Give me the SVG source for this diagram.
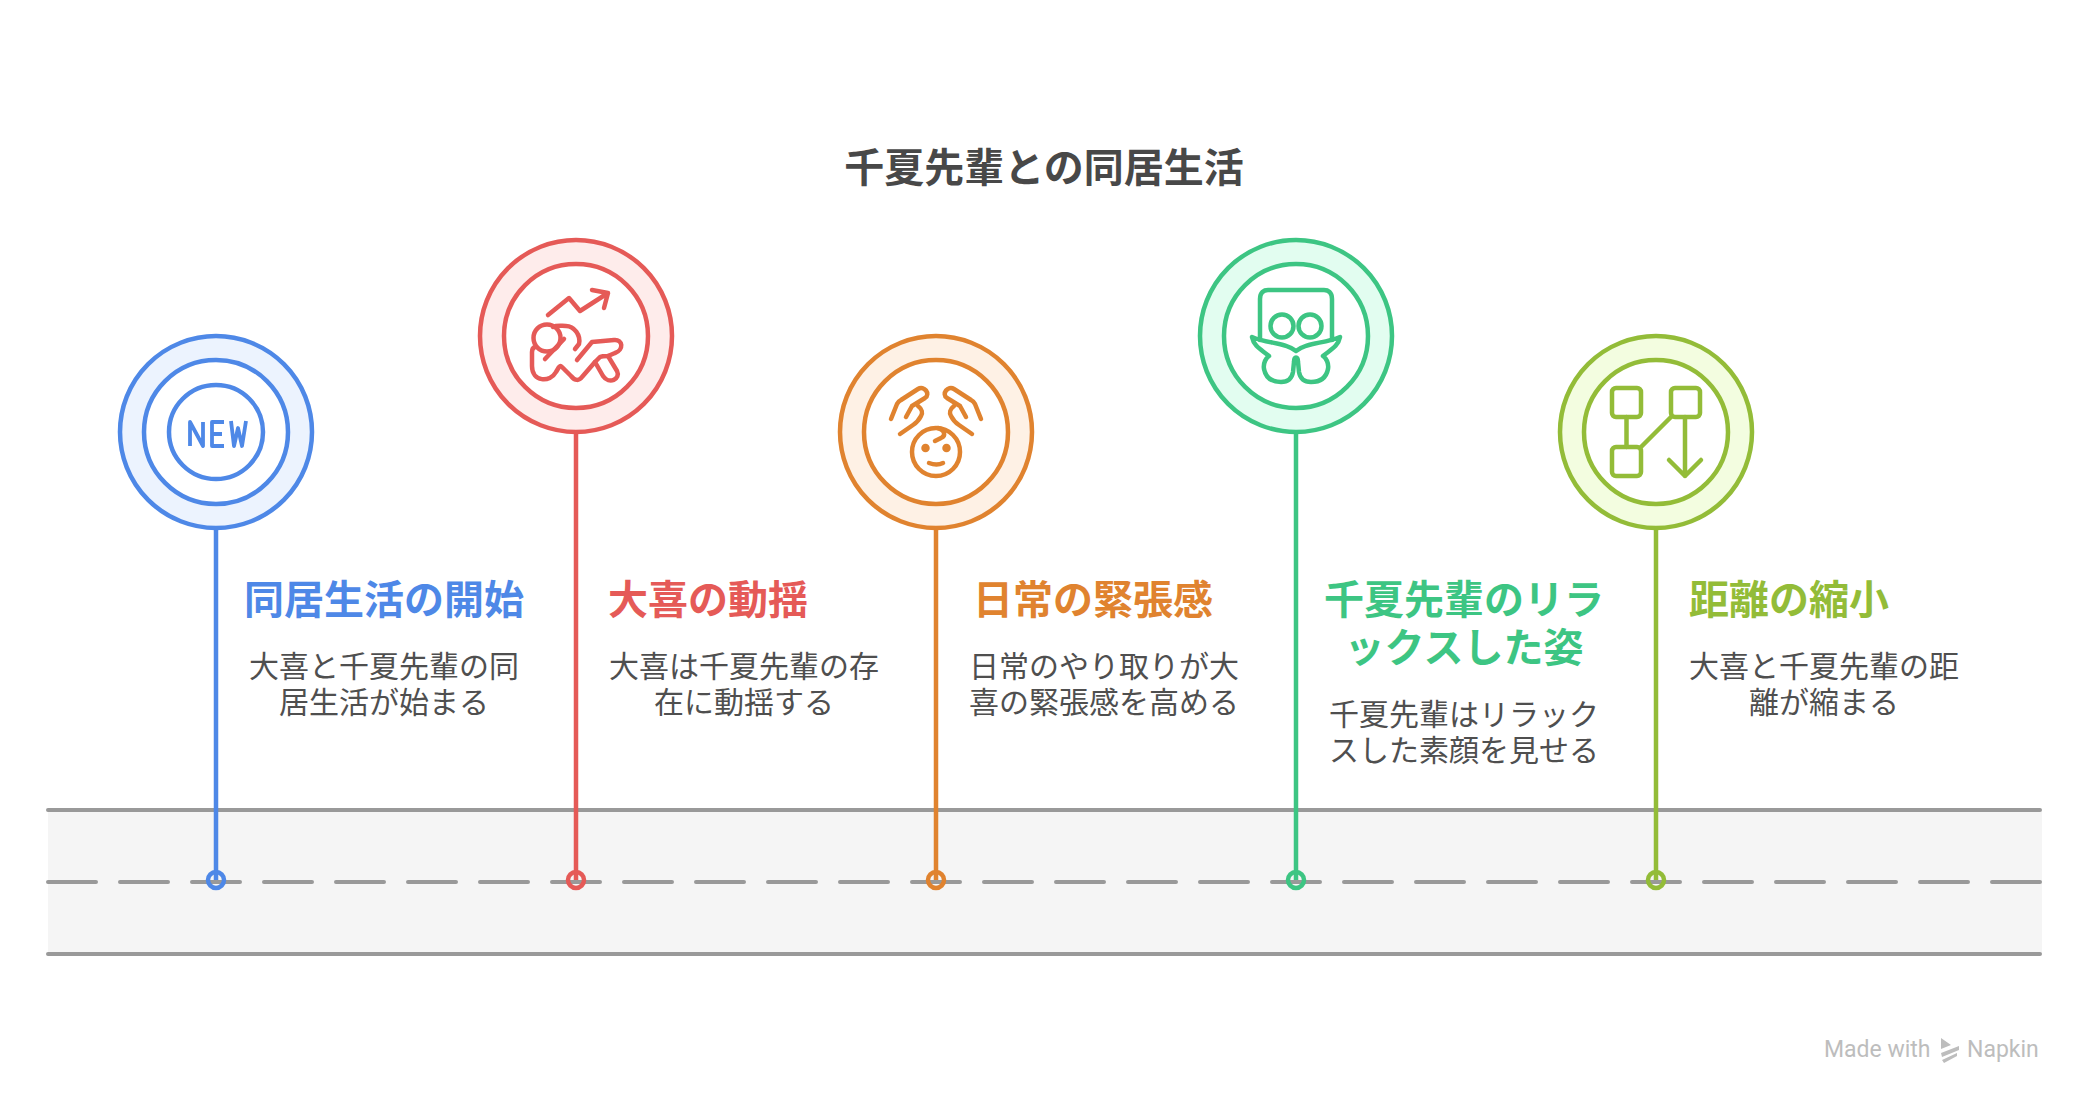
<svg xmlns="http://www.w3.org/2000/svg" width="2088" height="1105" viewBox="0 0 2088 1105">
<style>
text{font-family:"Noto Sans CJK JP","Noto Sans",sans-serif;text-anchor:middle}
.t{font-size:40px;font-weight:700;fill:#484848}
.h{font-size:40px;font-weight:700}
.b{font-size:30px;font-weight:400;fill:#4f4f4f}
.s{fill:none;stroke-width:4.500;stroke-linecap:round;stroke-linejoin:round}
.c{stroke-width:4.500;fill:#fff}
.o{stroke-width:4.500}
.road{stroke:#999;stroke-width:4;stroke-linecap:round;fill:none}
.blue{stroke:#4e88e7}.red{stroke:#e55a57}.orange{stroke:#e0832f}.green{stroke:#3dc583}.lime{stroke:#93bc38}
.wm{font-family:"Roboto",sans-serif;font-size:23px;fill:#bdbdbd;text-anchor:start}
</style>
<rect width="2088" height="1105" fill="#fff"/>
<text class="t" x="1044" y="182">千夏先輩との同居生活</text>
<g id="road">
<rect x="48" y="810" width="1994" height="144" fill="#f5f5f5"/>
<path class="road" d="M48 810H2040M48 954H2040"/>
<path class="road" d="M48 882H2040" stroke-dasharray="48 24"/>
</g>
<g id="connectors" fill="none" stroke-width="4.500">
<path class="blue" d="M216 528V880"/>
<path class="red" d="M576 432V880"/>
<path class="orange" d="M936 528V880"/>
<path class="green" d="M1296 432V880"/>
<path class="lime" d="M1656 528V880"/>
<circle class="blue" cx="216" cy="880" r="8"/>
<circle class="red" cx="576" cy="880" r="8"/>
<circle class="orange" cx="936" cy="880" r="8"/>
<circle class="green" cx="1296" cy="880" r="8"/>
<circle class="lime" cx="1656" cy="880" r="8"/>
</g>
<g id="node1">
<circle class="o blue" cx="216" cy="432" r="96" fill="#ecf3fe"/>
<circle class="c blue" cx="216" cy="432" r="72"/>
<circle class="c blue" cx="216" cy="432" r="47"/>
<path class="s blue" style="stroke-linecap:butt;stroke-linejoin:round;stroke-width:3.800" d="M190 446V422L203 446V422M224 422H212V446H224M212 434H222M231 421L234 446L238 428L242 446L246 421"/>
<text class="h" fill="#4e88e7" x="384" y="614">同居生活の開始</text>
<text class="b" x="384" y="677">大喜と千夏先輩の同<tspan x="384" dy="36">居生活が始まる</tspan></text>
</g>
<g id="node2">
<circle class="o red" cx="576" cy="336" r="96" fill="#feeceb"/>
<circle class="c red" cx="576" cy="336" r="72"/>
<g class="s red">
<path d="M548 315L569 298L580 311L608 293M592 290L608 293L604 308"/>
<circle cx="547" cy="338" r="13.500"/>
<path d="M535 347C532 348 532 350 532 352V366C532 382 550 383 556 372L559 367C560 366 561 366 562 367L571 376C575 381 579 381 582 377L595 362L600 357C602 356 605 356 608 356L615 353C624 350 623 339 614 340L592 342L577 360"/>
<path d="M595 362L603 376C609 385 621 379 617 371L608 356"/>
<path d="M575 349L579 344C581 335 574 326 566 326C561 326 557 325 553 327M545 359L564 339"/>
</g>
<text class="h" fill="#e55a57" x="708" y="614">大喜の動揺</text>
<text class="b" x="744" y="677">大喜は千夏先輩の存<tspan x="744" dy="36">在に動揺する</tspan></text>
</g>
<g id="node3">
<circle class="o orange" cx="936" cy="432" r="96" fill="#fef1e5"/>
<circle class="c orange" cx="936" cy="432" r="72"/>
<g class="s orange">
<path d="M891 419L897 404C898 402 899 401 901 400L918 389C924 385 931 394 925 398L912 406L906 417M918 406C922 409 923 413 921 416C919 420 916 423 913 425L900 434"/>
<path d="M981 419L975 404C974 402 973 401 971 400L954 389C948 385 941 394 947 398L960 406L966 417M954 406C950 409 949 413 951 416C953 420 956 423 959 425L972 434"/>
<circle cx="936" cy="452" r="24"/>
<path d="M938 428C945 430 946 436 941 438L935 441M929 463C934 465 939 465 943 463"/>
<circle cx="925.500" cy="448" r="2" fill="#e0832f"/>
<circle cx="946.500" cy="448" r="2" fill="#e0832f"/>
</g>
<text class="h" fill="#e0832f" x="1093" y="614">日常の緊張感</text>
<text class="b" x="1104" y="677">日常のやり取りが大<tspan x="1104" dy="36">喜の緊張感を高める</tspan></text>
</g>
<g id="node4">
<circle class="o green" cx="1296" cy="336" r="96" fill="#e2fdf0"/>
<circle class="c green" cx="1296" cy="336" r="72"/>
<g class="s green">
<path d="M1260 340V299C1260 292 1264 290 1268 290H1324C1328 290 1332 292 1332 299V340"/>
<circle cx="1282" cy="326" r="11.500"/>
<circle cx="1310" cy="326" r="11.500"/>
<path d="M1252 337C1268 344 1285 342 1296 351C1307 342 1324 344 1340 337C1338 347 1330 350 1323 356C1326 358 1329 363 1328 369C1326 379 1319 382 1311 382C1304 382 1300 378 1299 372L1298 362C1298 356 1294 356 1294 362L1293 372C1292 378 1288 382 1281 382C1273 382 1266 379 1264 369C1263 363 1266 358 1269 356C1262 350 1254 347 1252 337Z"/>
</g>
<text class="h" fill="#3dc583" x="1464" y="614">千夏先輩のリラ<tspan x="1464" dy="48">ックスした姿</tspan></text>
<text class="b" x="1464" y="725">千夏先輩はリラック<tspan x="1464" dy="36">スした素顔を見せる</tspan></text>
</g>
<g id="node5">
<circle class="o lime" cx="1656" cy="432" r="96" fill="#f3fde0"/>
<circle class="c lime" cx="1656" cy="432" r="72"/>
<g class="s lime">
<rect x="1612" y="388" width="29" height="29" rx="4"/>
<rect x="1671" y="388" width="29" height="29" rx="4"/>
<rect x="1612" y="447" width="29" height="29" rx="4"/>
<path d="M1626.500 417V447M1641 447L1671 417M1685 417V476M1669 460L1685 476L1701 460"/>
</g>
<text class="h" fill="#93bc38" x="1789" y="614">距離の縮小</text>
<text class="b" x="1824" y="677">大喜と千夏先輩の距<tspan x="1824" dy="36">離が縮まる</tspan></text>
</g>
<g id="watermark">
<text class="wm" x="1824" y="1057">Made with</text>
<path d="M1941 1038L1951 1045L1941 1049ZM1941 1053L1959 1046L1959 1050L1942 1057ZM1942 1060L1957 1053V1056L1944 1063Z" fill="#bdbdbd"/>
<text class="wm" x="1967" y="1057">Napkin</text>
</g>
</svg>
